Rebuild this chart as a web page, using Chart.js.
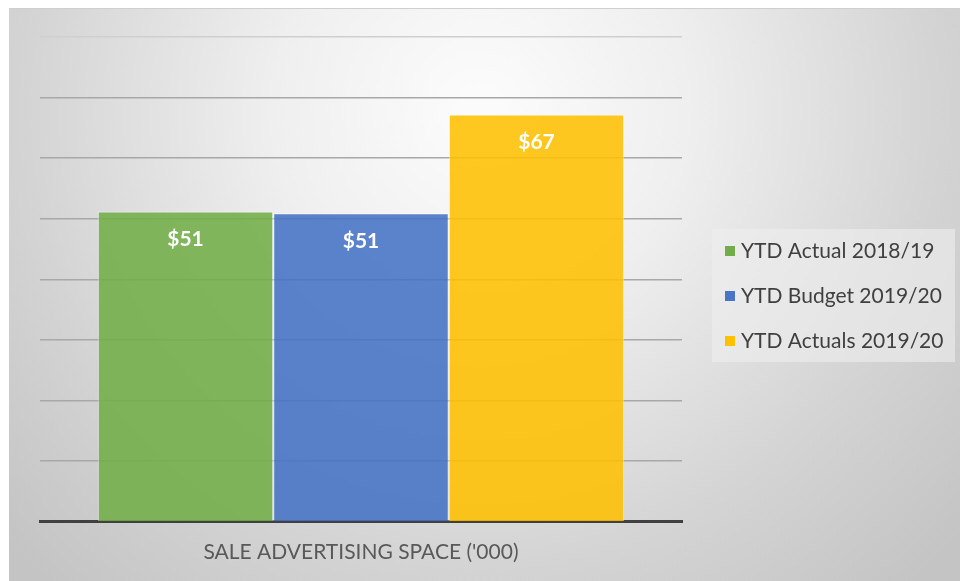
<!DOCTYPE html>
<html>
<head>
<meta charset="utf-8">
<script src="https://cdn.jsdelivr.net/npm/chart.js@4.4.1/dist/chart.umd.min.js"></script>
<style>
  html, body { margin: 0; padding: 0; background: #fff; }
  #wrap { width: 960px; height: 581px; position: relative; }
</style>
</head>
<body>
<div id="wrap"><canvas id="chart"></canvas></div>
<script>
const categories = ["SALE ADVERTISING SPACE ('000)"];
const seriesNames = ['YTD Actual 2018/19', 'YTD Budget 2019/20', 'YTD Actuals 2019/20'];
const actual1819 = [51.2];
const budget1920 = [50.9];
const actuals1920 = [67.2];
const labelText = ['$51', '$51', '$67'];
const colors = ['rgba(112,173,71,0.87)', 'rgba(68,114,196,0.87)', 'rgba(255,192,0,0.87)'];
const legendColors = ['#72ad4a', '#4a74c4', '#ffc000'];

// gray gradient panel behind everything
const panel = {
  id: 'panel',
  beforeDraw(chart) {
    const c = chart.ctx;
    c.save();
    c.fillStyle = '#fff';
    c.fillRect(0, 0, chart.width, chart.height);
    const g = c.createRadialGradient(480, 110, 20, 480, 110, 640);
    g.addColorStop(0, '#fbfbfb');
    g.addColorStop(0.3, '#efefef');
    g.addColorStop(0.7, '#d4d4d4');
    g.addColorStop(1, '#c4c4c4');
    c.fillStyle = g;
    c.fillRect(9, 8, chart.width - 9, chart.height - 8);
    c.fillStyle = '#cfcfcf';
    c.fillRect(9, 8, chart.width - 9, 1);
    c.restore();
  }
};

// value labels inside top of bars
const valueLabels = {
  id: 'valueLabels',
  afterDatasetsDraw(chart) {
    const c = chart.ctx;
    c.save();
    c.font = 'bold 21px Lato, "Open Sans", sans-serif';
    c.fillStyle = '#ffffff';
    c.textAlign = 'center';
    c.textBaseline = 'middle';
    chart.data.datasets.forEach((ds, i) => {
      const bar = chart.getDatasetMeta(i).data[0];
      c.fillText(labelText[i], bar.x, bar.y + 28);
    });
    c.restore();
  }
};

// legend box on the right
const sideLegend = {
  id: 'sideLegend',
  afterDraw(chart) {
    const c = chart.ctx;
    c.save();
    c.fillStyle = 'rgba(238,238,238,0.6)';
    c.fillRect(712, 229, 243, 133);
    c.font = '21px Lato, "Open Sans", sans-serif';
    c.textBaseline = 'middle';
    chart.data.datasets.forEach((ds, i) => {
      const y = 251 + i * 45;
      c.fillStyle = legendColors[i];
      c.fillRect(725, y - 5, 10, 10);
      c.fillStyle = '#404040';
      c.fillText(ds.label, 741, y);
    });
    c.restore();
  }
};

new Chart(document.getElementById('chart'), {
  type: 'bar',
  data: {
    labels: categories,
    datasets: [
      { label: seriesNames[0], data: actual1819, backgroundColor: colors[0] },
      { label: seriesNames[1], data: budget1920, backgroundColor: colors[1] },
      { label: seriesNames[2], data: actuals1920, backgroundColor: colors[2] }
    ].map(d => Object.assign(d, { borderColor: 'rgba(255,255,255,0.55)', borderWidth: 1, borderSkipped: 'bottom' }))
  },
  options: {
    responsive: true,
    maintainAspectRatio: false,
    animation: false,
    categoryPercentage: 0.82,
    barPercentage: 1,
    layout: { padding: { left: 40, right: 278, top: 37, bottom: 12 } },
    plugins: { legend: { display: false }, tooltip: { enabled: false } },
    scales: {
      x: {
        ticks: { display: false },
        grid: { display: false, drawTicks: false },
        border: { color: '#404040', width: 3 },
        title: {
          display: true,
          text: categories[0],
          color: '#595959',
          font: { family: 'Lato, "Open Sans", sans-serif', size: 21 },
          padding: { top: 18, bottom: 4 }
        }
      },
      y: {
        min: 0,
        max: 80,
        ticks: { display: false, stepSize: 10 },
        grid: {
          drawTicks: false,
          color: ctx => ctx.tick.value === 0 ? 'rgba(0,0,0,0)' : (ctx.tick.value === 80 ? '#cfcfcf' : '#a8a8a8'),
          lineWidth: 1.5
        },
        border: { display: false }
      }
    }
  },
  plugins: [panel, valueLabels, sideLegend]
});
</script>
</body>
</html>
